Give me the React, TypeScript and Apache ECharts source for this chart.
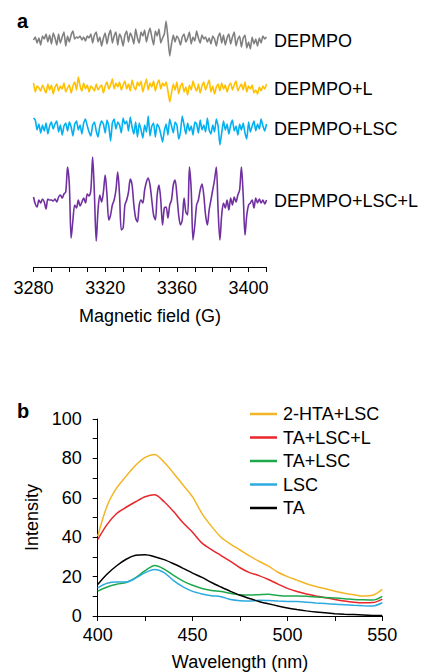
import React, { useEffect, useRef } from "react";
import * as echarts from "echarts";

// ---------- Panel a: EPR spectra (1 G steps from 3280 G) ----------
const fieldStart = 3280;
const fieldStep = 1;
const fieldTicks = [3280, 3320, 3360, 3400];
const eprNames = ["DEPMPO", "DEPMPO+L", "DEPMPO+LSC", "DEPMPO+LSC+L"];

const eprDepmpo = [
  0, 3, -3, 2, -5, 4, 1, 6, -2, 5,
  -4, 7, 2, -5, 6, -3, 3, 8, -6, 4,
  -2, 5, 9, 1, 3, 2, 4, 0, 3, -1,
  4, 2, 6, -3, 5, 8, -2, 3, -6, 2,
  7, -4, 5, 10, -3, 4, 8, -5, 6, 2,
  -6, 5, 9, -2, 7, 3, -4, 11, 2, -3,
  8, 4, 10, -2, 6, 12, 3, -5, 9, 4,
  11, -3, 2, 6, 19, 2, -16, -4, 5, -2,
  4, 1, -5, 3, 6, -2, 2, 8, -4, 3,
  -1, 9, 2, -3, 5, 1, 3, -2, 2, -4,
  4, 1, -6, 3, 7, -3, 5, -5, 2, 6,
  -4, 3, 8, -6, 1, 4, -7, 2, 5, -8,
  -2, -9, 3, -4, 1, -6, 2, -3, 4, 1,
  3,
];
const eprDepmpoL = [
  5, -4, 2, 0, -3, 3, -1, -5, 4, -2,
  3, -6, 1, 4, -3, 2, -1, 5, -4, 0,
  3, -5, 2, 6, -2, 11, 2, -3, 5, -1,
  3, -4, 2, 0, -3, 4, -2, 1, 3, -5,
  2, 6, -1, 3, 9, -1, 5, 1, 6, -2,
  3, 7, -1, 4, -3, 8, 1, -2, 6, 2,
  7, -4, 3, 9, -2, 5, 1, 7, -3, 4,
  8, -1, 5, 2, 6, -3, -14, -5, 4, -2,
  6, -6, 2, 5, -4, 1, -7, 3, -2, 7,
  1, -3, 4, -5, 2, 6, -2, 3, 8, -4,
  2, -6, 1, 4, -3, 5, -1, 3, -4, 2,
  5, -2, 3, 7, -3, 1, 4, -2, 6, -4,
  2, -1, 3, -5, -2, -6, 1, -3, 2, -1,
  4,
];
const eprDepmpoLsc = [
  10, 8, -2, 4, -5, 3, -3, 5, -6, 2,
  6, -1, 4, 7, -4, 3, -7, 2, 5, -3,
  6, 1, -8, 4, 7, -2, 3, -6, 5, 9,
  2, -4, -8, 3, 6, -3, -9, 2, 7, 4,
  -5, 8, 2, -13, 5, 9, -1, 6, 3, -5,
  10, 4, 7, -3, 11, 1, -6, 6, -9, 5,
  -2, -10, 3, -4, 12, -8, 2, 5, -9, 4,
  1, -6, -14, -3, 4, -7, 9, 2, -5, 6,
  3, -11, -4, 12, 3, -6, 5, -3, 2, -7,
  6, 4, -5, 8, -2, 3, -4, 10, -2, -6,
  3, -4, 9, 2, -17, -5, 7, -2, 4, -6,
  3, 8, -3, 2, -7, 4, -2, 5, -5, -11,
  6, -4, 2, 7, -3, 4, -1, 9, 2, -3,
  4,
];
const eprDepmpoLscL = [
  3, -4, -7, 0, -3, 1, -2, -9, 1, 0,
  0, -1, 1, -2, 3, 5, 2, 6, 8, 33,
  15, -38, -20, -5, -8, 0, -6, -2, 2, -3,
  6, 4, 10, 43, 5, -41, -10, 5, -2, 8,
  25, 5, -20, -15, -5, 0, 10, 28, 5, -30,
  -28, -5, 0, 8, 21, 15, -5, -18, -22, -5,
  0, -3, 10, 18, 22, 15, 0, -15, -20, 5,
  15, 0, -25, -8, -7, -18, -5, 0, 15, 20,
  5, -15, -25, -20, 2, -12, -15, 33, 10, -40,
  -25, -5, 0, 10, 16, 5, -15, -25, -10, 0,
  10, 20, 33, -10, -40, -15, -3, -8, 0, -10,
  2, -5, 3, -2, 5, 10, 33, 5, -35, -15,
  -5, -3, 0, -8, 2, -3, 1, -3, 0, -4,
  0,
];

// ---------- Panel b: fluorescence spectra ----------
const wavelengths = [
  400, 405, 410, 415, 420, 425, 430, 435, 440, 445, 450, 455, 460, 465, 470, 475,
  480, 485, 490, 495, 500, 505, 510, 515, 520, 525, 530, 535, 540, 545, 550,
];
const flNames = ["2-HTA+LSC", "TA+LSC+L", "TA+LSC", "LSC", "TA"];
const hta2Lsc = [
  40.5, 56, 65, 71, 76.5, 80.5, 82, 78, 72.5, 66.5, 60.5, 52, 45.5, 40, 36.5, 33.5,
  30.5, 27.8, 25.3, 22.2, 20, 18.2, 16.4, 15, 13.8, 12.6, 11.6, 10.8, 10.1, 10.5, 13.5,
];
const taLscL = [
  38.8, 46.5, 52, 55.2, 58, 60.5, 61.5, 58, 53, 47.3, 42.5, 37, 33.7, 30.7, 27.7, 24.5,
  22, 20.5, 18.5, 16.2, 14, 12.4, 11.2, 10.2, 9.3, 8.4, 7.6, 7, 6.7, 6.8, 8.6,
];
const taLsc = [
  12.6, 14.7, 16.1, 17, 19.5, 23, 25.6, 23.8, 20.6, 17.7, 15.6, 14, 13, 12.4, 11.5, 10.8,
  10.6, 10.8, 11, 10.4, 10.1, 10.1, 10, 9.7, 9.4, 9.1, 8.8, 8.4, 8.2, 8.1, 10,
];
const lsc = [
  14.3, 16.6, 17.2, 17.2, 19.2, 22, 23.6, 22, 18, 14.8, 12.5, 11.2, 10.3, 9.8, 8.4, 7.8,
  7.6, 8, 7.9, 7.6, 7.4, 7.3, 7, 6.6, 6.3, 6, 5.7, 5.4, 5.2, 5.1, 6.7,
];
const ta = [
  16, 21.3, 25.5, 28.8, 30.8, 31.1, 30.1, 28.6, 26.5, 24.2, 21.8, 19.6, 17, 14.7, 12.5, 10.5,
  8.9, 7.4, 6.2, 5.1, 4.1, 3.3, 2.6, 2, 1.6, 1.2, 0.9, 0.7, 0.5, 0.3, 0.2,
];
const intensityTicks = [0, 20, 40, 60, 80, 100];
const wavelengthTicks = [400, 450, 500, 550];

const FONT = '"Liberation Sans", Arial, Helvetica, sans-serif';

export default function App() {
  const ref = useRef<HTMLDivElement>(null);

  useEffect(() => {
    const chart = echarts.init(ref.current!, null, { renderer: "svg" });

    // layout
    const gridA = { left: 33.5, top: 10, width: 233, height: 257 };
    const yMaxA = 257;
    const eprOffsets = [227, 179, 139, 67];
    const eprColors = ["#808080", "#FFC000", "#00B0F0", "#7030A0"];
    const eprSmooth = [0.15, 0.15, 0.15, 0.3];
    const eprSets = [eprDepmpo, eprDepmpoL, eprDepmpoLsc, eprDepmpoLscL];

    const gridB = { left: 97.7, top: 419, width: 284.6, height: 197.7 };
    const flColors = ["#F3B525", "#E8262B", "#1EA84C", "#2DAAE1", "#000000"];
    const flSets = [hta2Lsc, taLscL, taLsc, lsc, ta];

    const eprSeries = eprSets.map((vals, k) => ({
      type: "line",
      name: eprNames[k],
      xAxisIndex: 0,
      yAxisIndex: 0,
      data: vals.map((v, i) => [fieldStart + i * fieldStep, eprOffsets[k] + v]),
      symbol: "none",
      smooth: eprSmooth[k],
      silent: true,
      lineStyle: { color: eprColors[k], width: 1.6 },
      itemStyle: { color: eprColors[k] },
    }));

    const flSeries = flSets.map((vals, k) => ({
      type: "line",
      name: flNames[k],
      xAxisIndex: 1,
      yAxisIndex: 1,
      data: vals.map((v, i) => [wavelengths[i], v]),
      symbol: "none",
      smooth: 0.3,
      silent: true,
      lineStyle: { color: flColors[k], width: 1.5 },
      itemStyle: { color: flColors[k] },
    }));

    const labelYs = eprOffsets.map((o) => gridA.top + (yMaxA - o) + 1);

    const axisLineStyle = { lineStyle: { color: "#000", width: 1 } };
    const labelStyle = { color: "#000", fontSize: 18, fontFamily: FONT };

    chart.setOption({
      animation: false,
      backgroundColor: "#fff",
      textStyle: { fontFamily: FONT },
      grid: [
        { ...gridA, containLabel: false },
        { ...gridB, containLabel: false },
      ],
      xAxis: [
        {
          gridIndex: 0,
          type: "value",
          min: 3280,
          max: 3410,
          interval: 10,
          axisLine: { show: true, ...axisLineStyle },
          axisTick: { show: true, length: 5, inside: false, lineStyle: { color: "#000" } },
          splitLine: { show: false },
          axisLabel: {
            ...labelStyle,
            margin: 12,
            formatter: (v: number) => (fieldTicks.includes(v) ? String(v) : ""),
          },
          name: "Magnetic field (G)",
          nameLocation: "middle",
          nameGap: 40,
          nameTextStyle: { ...labelStyle },
        },
        {
          gridIndex: 1,
          type: "value",
          min: 400,
          max: 550,
          interval: 25,
          axisLine: { show: true, ...axisLineStyle },
          axisTick: { show: true, length: 5, inside: false, lineStyle: { color: "#000" } },
          splitLine: { show: false },
          axisLabel: {
            ...labelStyle,
            margin: 10,
            formatter: (v: number) => (wavelengthTicks.includes(v) ? String(v) : ""),
          },
          name: "Wavelength (nm)",
          nameLocation: "middle",
          nameGap: 37,
          nameTextStyle: { ...labelStyle },
        },
      ],
      yAxis: [
        {
          gridIndex: 0,
          type: "value",
          min: 0,
          max: yMaxA,
          show: false,
        },
        {
          gridIndex: 1,
          type: "value",
          min: 0,
          max: 100,
          interval: 10,
          axisLine: { show: true, ...axisLineStyle },
          axisTick: { show: true, length: 5, inside: false, lineStyle: { color: "#000" } },
          splitLine: { show: false },
          axisLabel: {
            ...labelStyle,
            margin: 16,
            formatter: (v: number) => (intensityTicks.includes(v) ? String(v) : ""),
          },
          name: "Intensity",
          nameLocation: "middle",
          nameGap: 47,
          nameRotate: 90,
          nameTextStyle: { ...labelStyle },
        },
      ],
      legend: {
        data: flNames,
        orient: "vertical",
        left: 245,
        top: 400,
        itemWidth: 27,
        itemHeight: 2.5,
        itemGap: 5.5,
        icon: "rect",
        selectedMode: false,
        textStyle: { ...labelStyle, padding: [0, 0, 0, 1] },
      },
      series: [...eprSeries, ...flSeries],
      graphic: [
        {
          type: "text",
          x: 17,
          y: 21,
          style: { text: "a", font: `bold 20px ${FONT}`, fill: "#000", verticalAlign: "middle" },
        },
        {
          type: "text",
          x: 17,
          y: 411,
          style: { text: "b", font: `bold 20px ${FONT}`, fill: "#000", verticalAlign: "middle" },
        },
        ...eprNames.map((n, k) => ({
          type: "text",
          x: 274,
          y: labelYs[k],
          style: {
            text: n,
            font: `18px ${FONT}`,
            fill: "#000",
            verticalAlign: "middle",
          },
        })),
      ],
    });

    return () => chart.dispose();
  }, []);

  return (
    <div
      ref={ref}
      style={{ position: "absolute", left: 0, top: 0, width: 423, height: 672, background: "#fff" }}
    />
  );
}
